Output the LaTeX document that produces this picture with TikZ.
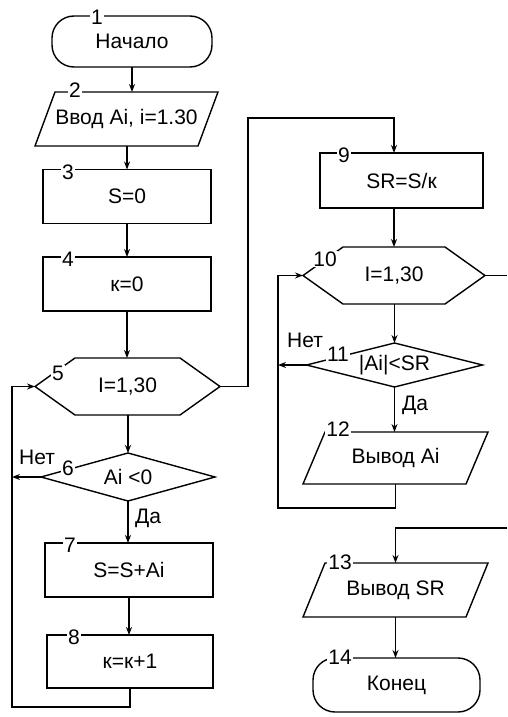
\documentclass[tikz,border=0pt]{standalone}
\usepackage{fontspec}
\setmainfont{Liberation Sans}
\usetikzlibrary{arrows.meta}
\newcommand\drawhexa[2]{\draw (#1.west) -- ([xshift=#2]#1.north west) -- ([xshift=-#2]#1.north east) -- (#1.east) -- ([xshift=-#2]#1.south east) -- ([xshift=#2]#1.south west) -- cycle;}
\newcommand\drawpara[2]{\draw ([xshift=#2]#1.north west) -- (#1.north east) -- ([xshift=-#2]#1.south east) -- (#1.south west) -- cycle;}
\newcommand\drawdiam[1]{\draw (#1.west) -- (#1.north) -- (#1.east) -- (#1.south) -- cycle;}
\begin{document}
\begin{tikzpicture}[x=1pt,y=-1pt, line width=1.4pt, font=\fontsize{21}{25}\selectfont,
  box/.style={draw, minimum width=168pt, minimum height=54pt, inner sep=0pt, outer sep=0pt},
  term/.style={draw, rounded corners=22pt, inner sep=0pt, outer sep=0pt},
  shp/.style={inner sep=0pt, outer sep=0pt},
  num/.style={fill=white, inner sep=1pt},
  lbl/.style={inner sep=0pt},
  arr/.style={-{Stealth[length=8pt,width=6pt]}}]
\useasboundingbox (0,0) rectangle (507,717);
% left column
\node[term, minimum width=160pt, minimum height=51pt] (n1) at (132,41.5) {Начало};
\node[shp, minimum width=183pt, minimum height=54pt] (n2) at (126.5,119) {Ввод Ai, i=1.30};
\node[box] (n3) at (127,196.5) {S=0};
\node[box] (n4) at (127,284) {к=0};
\node[shp, minimum width=185pt, minimum height=57pt] (n5) at (127.5,386.5) {I=1,30};
\node[shp, minimum width=174pt, minimum height=48pt] (n6) at (128,477) {Ai <0};
\node[box] (n7) at (129,570) {S=S+Ai};
\node[box, minimum width=166pt, minimum height=53pt] (n8) at (130,661.5) {к=к+1};
% right column
\node[box, minimum width=163pt, minimum height=55pt] (n9) at (401.5,180.5) {SR=S/к};
\node[shp, minimum width=182pt, minimum height=57pt] (n10) at (394,275.5) {I=1,30};
\node[shp, minimum width=176pt, minimum height=44pt] (n11) at (394.5,365) {|Ai|<SR};
\node[shp, minimum width=185pt, minimum height=52pt] (n12) at (395.5,458) {Вывод Ai};
\node[shp, minimum width=185pt, minimum height=54pt] (n13) at (395.5,590) {Вывод SR};
\node[term, minimum width=167pt, minimum height=54pt] (n14) at (396.5,685) {Конец};
% outlines
\drawpara{n2}{20pt}
\drawhexa{n5}{40pt}
\drawdiam{n6}
\drawhexa{n10}{40pt}
\drawdiam{n11}
\drawpara{n12}{22pt}
\drawpara{n13}{22pt}
% connectors left
\draw[arr] (n1.south) -- (n1.south |- n2.north);
\draw[arr] (n3.north |- n2.south) -- (n3.north);
\draw[arr] (n3.south) -- (n4.north);
\draw[arr] (n4.south) -- (n4.south |- n5.north);
\draw[arr] (n6.north |- n5.south) -- (n6.north);
\draw[arr] (n6.south) -- (n6.south |- n7.north);
\draw[arr] (n7.south) -- (n7.south |- n8.north);
\coordinate (b8) at (12,707);
\draw[arr] (n8.south) |- (b8) |- (n5.west);
\draw[arr] (n6.west) -- (n6.west -| b8);
\coordinate (a5) at (248,118);
\draw[arr] (n5.east) -| (a5) -| (n10.north |- n9.north);
% connectors right
\draw[arr] (n10.north |- n9.south) -- (n10.north);
\draw[arr] (n11.north |- n10.south) -- (n11.north);
\draw[arr] (n11.south) -- (n11.south |- n12.north);
\coordinate (b12) at (278,508);
\draw[arr] (n12.south) |- (b12) |- (n10.west);
\draw[arr] (n11.west) -- (n11.west -| b12);
\coordinate (e10) at (507,275.5);
\draw (n10.east) -- (e10);
\coordinate (e13) at (507,528);
\draw[arr] (e13) -| (n13.north);
\draw[arr] (n13.south) -- (n13.south |- n14.north);
% numbers
\node[num] (l1) at (97,17) {1};
\node[num] (l2) at (75,90) {2};
\node[num] (l3) at (68,172) {3};
\node[num] (l4) at (68,259) {4};
\node[num] (l5) at (58,373) {5};
\node[num] (l6) at (68,468) {6};
\node[num] (l7) at (70,545) {7};
\node[num] (l8) at (74,637) {8};
\node[num] (l9) at (344,155) {9};
\node[num] (l10) at (325,259) {10};
\node[num] (l11) at (338,354) {11};
\node[num] (l12) at (338,429) {12};
\node[num] (l13) at (340,562) {13};
\node[num] (l14) at (340,657) {14};
% branch labels
\node[lbl] (t6n) at (37,457) {Нет};
\node[lbl] (t6y) at (148,518) {Да};
\node[lbl] (t11n) at (305,340) {Нет};
\node[lbl] (t11y) at (415,405) {Да};
\end{tikzpicture}
\end{document}
